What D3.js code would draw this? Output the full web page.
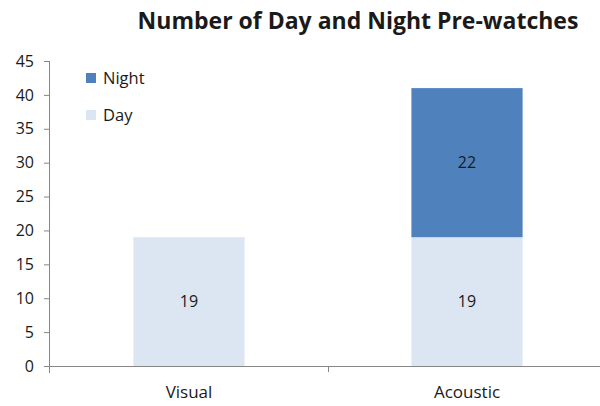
<!DOCTYPE html>
<html>
<head>
<meta charset="utf-8">
<script src="https://cdn.jsdelivr.net/npm/d3@7"></script>
<style>
  html, body { margin: 0; padding: 0; background: #fff; }
  svg { display: block; font-family: "Open Sans", Lato, sans-serif; }
</style>
</head>
<body>
<svg id="chart" width="600" height="406"></svg>
<script>
const categories = ["Visual", "Acoustic"];
const dayValues = [19, 19];
const nightValues = [0, 22];
const seriesNames = ["Day", "Night"];
const yTicks = [0, 5, 10, 15, 20, 25, 30, 35, 40, 45];

const colors = { Day: "#dce6f2", Night: "#4f81bd" };
const axisColor = "#868686";
const textColor = "#1a1a1a";

const svg = d3.select("#chart");

const x = d3.scaleBand()
  .domain(categories)
  .range([50, 606])
  .paddingInner(0.6)
  .paddingOuter(0.3);

const y = d3.scaleLinear().domain([0, 45]).range([366, 61]);

const rows = categories.map((c, i) => ({ category: c, Day: dayValues[i], Night: nightValues[i] }));
const stacked = d3.stack().keys(seriesNames)(rows);

// Stacked bars
const layers = svg.append("g").selectAll("g")
  .data(stacked)
  .join("g")
  .attr("fill", d => colors[d.key]);

layers.selectAll("rect")
  .data(d => d.filter(s => s[1] > s[0]))
  .join("rect")
  .attr("x", d => x(d.data.category))
  .attr("width", x.bandwidth())
  .attr("y", d => y(d[1]))
  .attr("height", d => y(d[0]) - y(d[1]));

// Value labels centred in each segment
layers.selectAll("text")
  .data(d => d.filter(s => s[1] > s[0]))
  .join("text")
  .attr("x", d => x(d.data.category) + x.bandwidth() / 2)
  .attr("y", d => (y(d[0]) + y(d[1])) / 2)
  .attr("dy", "0.36em")
  .attr("text-anchor", "middle")
  .attr("fill", textColor)
  .attr("font-size", 16)
  .text(d => d[1] - d[0]);

// Y axis
const yAxis = svg.append("g")
  .attr("transform", "translate(50,0)")
  .call(d3.axisLeft(y).tickValues(yTicks).tickSize(6).tickPadding(10));
yAxis.select(".domain").attr("stroke", axisColor).attr("d", `M-0.5,${y(45)}V${y(0) + 7}`);
yAxis.selectAll(".tick line").attr("stroke", axisColor);
yAxis.selectAll(".tick text")
  .attr("font-size", 16)
  .attr("fill", textColor)
  .attr("font-family", "'Open Sans', sans-serif");

// X axis with ticks between categories
const xAxis = svg.append("g").attr("transform", `translate(0,${y(0)})`);
xAxis.append("line")
  .attr("x1", 50).attr("x2", 600)
  .attr("y1", 0.5).attr("y2", 0.5)
  .attr("stroke", axisColor);
const boundaries = categories.slice(1).map(c => x(c) - x.step() * x.paddingInner() / 2);
xAxis.selectAll("line.sep")
  .data(boundaries)
  .join("line")
  .attr("class", "sep")
  .attr("x1", d => Math.round(d) + 0.5).attr("x2", d => Math.round(d) + 0.5)
  .attr("y1", 0).attr("y2", 6)
  .attr("stroke", axisColor);
xAxis.selectAll("text")
  .data(categories)
  .join("text")
  .attr("x", d => x(d) + x.bandwidth() / 2)
  .attr("y", 32)
  .attr("text-anchor", "middle")
  .attr("font-size", 17)
  .attr("fill", textColor)
  .text(d => d);

// Legend
const legendItems = ["Night", "Day"];
const legend = svg.append("g").selectAll("g")
  .data(legendItems)
  .join("g")
  .attr("transform", (d, i) => `translate(86,${73 + i * 37})`);
legend.append("rect")
  .attr("width", 10).attr("height", 10)
  .attr("fill", d => colors[d]);
legend.append("text")
  .attr("x", 17).attr("y", 5)
  .attr("dy", "0.36em")
  .attr("font-size", 16.5)
  .attr("fill", textColor)
  .text(d => d);

// Title
svg.append("text")
  .attr("x", 358).attr("y", 29)
  .attr("text-anchor", "middle")
  .attr("font-size", 23)
  .attr("font-weight", "bold")
  .attr("fill", textColor)
  .text("Number of Day and Night Pre-watches");
</script>
</body>
</html>
